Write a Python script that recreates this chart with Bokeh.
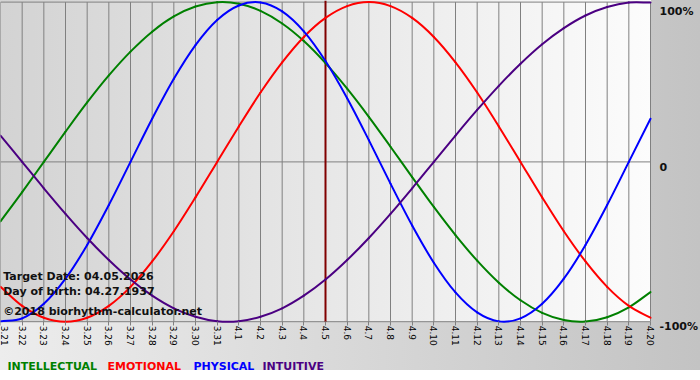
import math
from bokeh.plotting import figure
from bokeh.models import Range1d, FixedTicker, Label
from bokeh.embed import file_html
from bokeh.resources import INLINE

# ---- data ----
dates = ["3.21", "3.22", "3.23", "3.24", "3.25", "3.26", "3.27", "3.28", "3.29", "3.30", "3.31",
         "4.1", "4.2", "4.3", "4.4", "4.5", "4.6", "4.7", "4.8", "4.9", "4.10",
         "4.11", "4.12", "4.13", "4.14", "4.15", "4.16", "4.17", "4.18", "4.19", "4.20"]

intellectual = [-0.372, -0.189, 0.000, 0.189, 0.372, 0.541, 0.690, 0.815, 0.910, 0.972, 0.999,
                0.990, 0.945, 0.866, 0.756, 0.618, 0.458, 0.282, 0.095, -0.095, -0.282,
                -0.458, -0.618, -0.756, -0.866, -0.945, -0.990, -0.999, -0.972, -0.910, -0.815]

emotional = [-0.782, -0.901, -0.975, -1.000, -0.975, -0.901, -0.782, -0.623, -0.434, -0.222, 0.000,
             0.222, 0.434, 0.623, 0.782, 0.901, 0.975, 1.000, 0.975, 0.901, 0.782,
             0.623, 0.434, 0.222, 0.000, -0.222, -0.434, -0.623, -0.782, -0.901, -0.975]

physical = [-0.998, -0.979, -0.888, -0.731, -0.520, -0.270, 0.000, 0.270, 0.520, 0.731, 0.888,
            0.979, 0.998, 0.942, 0.817, 0.631, 0.398, 0.136, -0.136, -0.398, -0.631,
            -0.817, -0.942, -0.998, -0.979, -0.888, -0.731, -0.520, -0.270, 0.000, 0.270]

intuitive = [0.165, 0.000, -0.165, -0.325, -0.476, -0.614, -0.736, -0.837, -0.916, -0.969, -0.997,
             -0.997, -0.969, -0.916, -0.837, -0.736, -0.614, -0.476, -0.325, -0.165, 0.000,
             0.165, 0.325, 0.476, 0.614, 0.736, 0.837, 0.916, 0.969, 0.997, 0.997]

target_date = "4.5"
y_ticks = [1, 0, -1]
y_tick_labels = ["100%", "0", "-100%"]
series_names = ["INTELLECTUAL", "EMOTIONAL", "PHYSICAL", "INTUITIVE"]
info_lines = ["Target Date: 04.05.2026", "Day of birth: 04.27.1937", "\u00a92018 biorhythm-calculator.net"]

# ---- styling / layout ----
colors = ["#008000", "#ff0000", "#0000ff", "#4b0082"]
series = [intellectual, emotional, physical, intuitive]
days = list(range(len(dates)))
n = len(dates) - 1

W, H = 700, 380
px_day = 650 / n                 # pixels per day
top_px, bot_px = 1.6, 321.2      # pixel rows of +1 and -1
upp = 2 / (bot_px - top_px)      # value units per pixel

p = figure(width=W, height=H, output_backend="svg", toolbar_location=None,
           x_range=Range1d(0, W / px_day),
           y_range=Range1d(-1 - (H - bot_px) * upp, 1 + top_px * upp),
           y_axis_location=None,
           min_border_left=0, min_border_top=0, min_border_right=0, min_border_bottom=0)

p.styles = {"background": "linear-gradient(to right, #d3d3d3, #fcfcfc) 0 0 / 651px 322px no-repeat, "
                          "linear-gradient(to right, #ededed, #c3c3c3) 0 0 / 700px 370px no-repeat, "
                          "#ffffff"}
p.background_fill_alpha = 0
p.border_fill_alpha = 0
p.outline_line_color = None
p.xgrid.visible = False
p.ygrid.visible = False

# bottom date axis drawn at the -100% line
ticker = FixedTicker(ticks=days)
p.xaxis.ticker = ticker
p.xaxis.fixed_location = -1
p.xaxis.major_label_overrides = {i: d for i, d in enumerate(dates)}
p.xaxis.major_label_orientation = -math.pi / 2
p.xaxis.major_label_text_font = "DejaVu Sans"
p.xaxis.major_label_text_font_size = "9px"
p.xaxis.major_label_text_color = "black"
p.xaxis.major_label_standoff = 0
p.xaxis.axis_line_color = None
p.xaxis.major_tick_line_color = "#808080"
p.xaxis.major_tick_out = 4
p.xaxis.major_tick_in = 0
p.xaxis.minor_tick_line_color = None

# grid lines limited to the chart area
p.segment(x0=days, y0=-1, x1=days, y1=1, line_color="#808080", line_width=1, level="underlay")
p.segment(x0=0, y0=y_ticks, x1=n, y1=y_ticks, line_color="#808080", line_width=1, level="underlay")

target_idx = dates.index(target_date)
p.segment(x0=[target_idx], y0=-1, x1=[target_idx], y1=1 + top_px * upp,
          line_color="#800000", line_width=2, level="underlay")

# smooth curves through the daily values (Catmull-Rom as cubic Bezier segments)
for vals, c in zip(series, colors):
    ext = [2 * vals[0] - vals[1]] + vals + [2 * vals[-1] - vals[-2]]
    xe = [-1] + days + [n + 1]
    x0, y0, x1, y1, cx0, cy0, cx1, cy1 = [], [], [], [], [], [], [], []
    for i in range(n):
        j = i + 1
        x0.append(xe[j]); y0.append(ext[j])
        x1.append(xe[j + 1]); y1.append(ext[j + 1])
        cx0.append(xe[j] + (xe[j + 1] - xe[j - 1]) / 6)
        cy0.append(ext[j] + (ext[j + 1] - ext[j - 1]) / 6)
        cx1.append(xe[j + 1] - (xe[j + 2] - xe[j]) / 6)
        cy1.append(ext[j + 1] - (ext[j + 2] - ext[j]) / 6)
    p.bezier(x0=x0, y0=y0, x1=x1, y1=y1, cx0=cx0, cy0=cy0, cx1=cx1, cy1=cy1,
             line_color=c, line_width=2, line_cap="round")

# right-hand percentage labels
for yv, txt, yo in zip(y_ticks, y_tick_labels, [-9.1, -4.6, -4.8]):
    p.add_layout(Label(x=n, y=yv, x_offset=9, y_offset=yo, text=txt,
                       text_font="DejaVu Sans", text_font_size="11px", text_font_style="bold",
                       text_color="#111111", text_baseline="alphabetic"))

# info text lower left
for txt, yo in zip(info_lines, [45.2, 30.2, 10.2]):
    p.add_layout(Label(x=0, y=-1, x_offset=2.7, y_offset=yo, text=txt,
                       text_font="DejaVu Sans", text_font_size="11px", text_font_style="bold",
                       text_color="#111111", text_baseline="alphabetic"))

# colored series names below the chart
for txt, c, xo in zip(series_names, colors, [7, 107, 193, 262]):
    p.add_layout(Label(x=0, y=-1, x_offset=xo, y_offset=-44.8, text=txt,
                       text_font="DejaVu Sans", text_font_size="11px", text_font_style="bold",
                       text_color=c, text_baseline="alphabetic"))

html = file_html(p, INLINE)
html = html.replace("</head>", "<style>html,body{margin:0;padding:0;}</style></head>", 1)
open("out.html", "w").write(html)
